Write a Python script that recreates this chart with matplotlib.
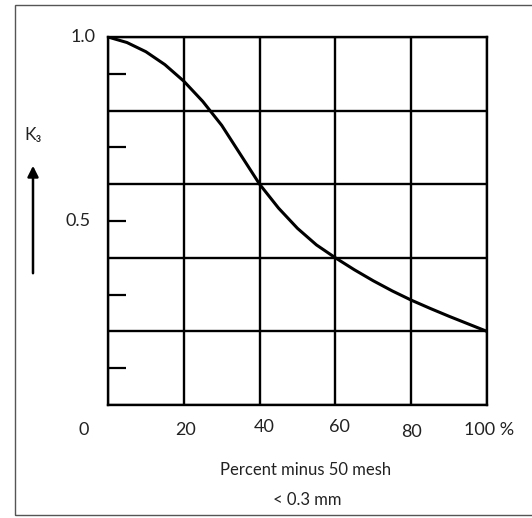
import matplotlib.pyplot as plt
from matplotlib.patches import Rectangle

# K3 against percent minus 50 mesh
pct = [0, 5, 10, 15, 20, 25, 30, 35, 40, 45, 50, 55, 60, 65, 70, 75, 80, 85, 90, 95, 100]
k3 = [1.0, 0.985, 0.96, 0.925, 0.88, 0.825, 0.76, 0.68, 0.6, 0.535, 0.48, 0.435, 0.4,
      0.3675, 0.3375, 0.31, 0.285, 0.2625, 0.241, 0.2205, 0.2]

x_lbls = ['0', '20', '40', '60', '80', '100 %']
x_lbl_pos = [-6.3, 20.6, 41.2, 61, 80.2, 100.6]
x_lbl_dy = [0, 0, -2, -2, 1.5, 0]

fnt = ['Lato', 'DejaVu Sans']
plt.rcParams['font.family'] = fnt
txt_col = '#222222'

fig = plt.figure(figsize=(5.32, 5.18), dpi=100)
ax = fig.add_axes([108/532, 1 - 405/518, (487 - 108)/532, (405 - 37)/518])

ax.plot(pct, k3, color='black', lw=2.2, solid_capstyle='round', solid_joinstyle='round')

ax.set_xlim(0, 100)
ax.set_ylim(0, 1)
ax.set_xticks([0, 20, 40, 60, 80, 100])
ax.set_yticks([0, 0.2, 0.4, 0.6, 0.8, 1.0])
ax.grid(True, color='black', lw=1.7)
ax.set_axisbelow(True)
for s in ax.spines.values():
    s.set_linewidth(1.7)
ax.tick_params(axis='both', length=0, labelbottom=False, labelleft=False)

# short inner ticks at the odd tenths
ax.set_yticks([0.1, 0.3, 0.5, 0.7, 0.9], minor=True)
ax.tick_params(axis='y', which='minor', direction='in', length=13, width=1.6, color='black')

ax.text(-3.4, 1.0, '1.0', ha='right', va='center', fontsize=13, color=txt_col)
ax.text(-4.5, 0.5, '0.5', ha='right', va='center', fontsize=13, color=txt_col)

for lbl, xp, dy in zip(x_lbls, x_lbl_pos, x_lbl_dy):
    ax.annotate(lbl, xy=(xp, 0), xycoords='data', xytext=(0, -18 - dy), textcoords='offset points',
                ha='center', va='center', fontsize=13, color=txt_col, annotation_clip=False)

fig.text(306/532, 1 - 470/518, 'Percent minus 50 mesh', ha='center', va='center',
         fontsize=12, color=txt_col)
fig.text(307/532, 1 - 500/518, '< 0.3 mm', ha='center', va='center',
         fontsize=12, color=txt_col)

fig.text(33/532, 1 - 135/518, 'K₃', ha='center', va='center', fontsize=12.5, color=txt_col)
ax.annotate('', xy=(33/532, 1 - 163/518), xytext=(33/532, 1 - 276/518),
            xycoords='figure fraction', textcoords='figure fraction',
            arrowprops=dict(arrowstyle='-|>', color='black', lw=1.8, mutation_scale=16),
            annotation_clip=False)

# frame around the whole picture
fig.patches.append(Rectangle((15/532, 1 - 515/518), 1.2, (515 - 5)/518, transform=fig.transFigure,
                             fill=False, edgecolor='#555555', lw=1.0))

fig.savefig('out.png', dpi=100)
